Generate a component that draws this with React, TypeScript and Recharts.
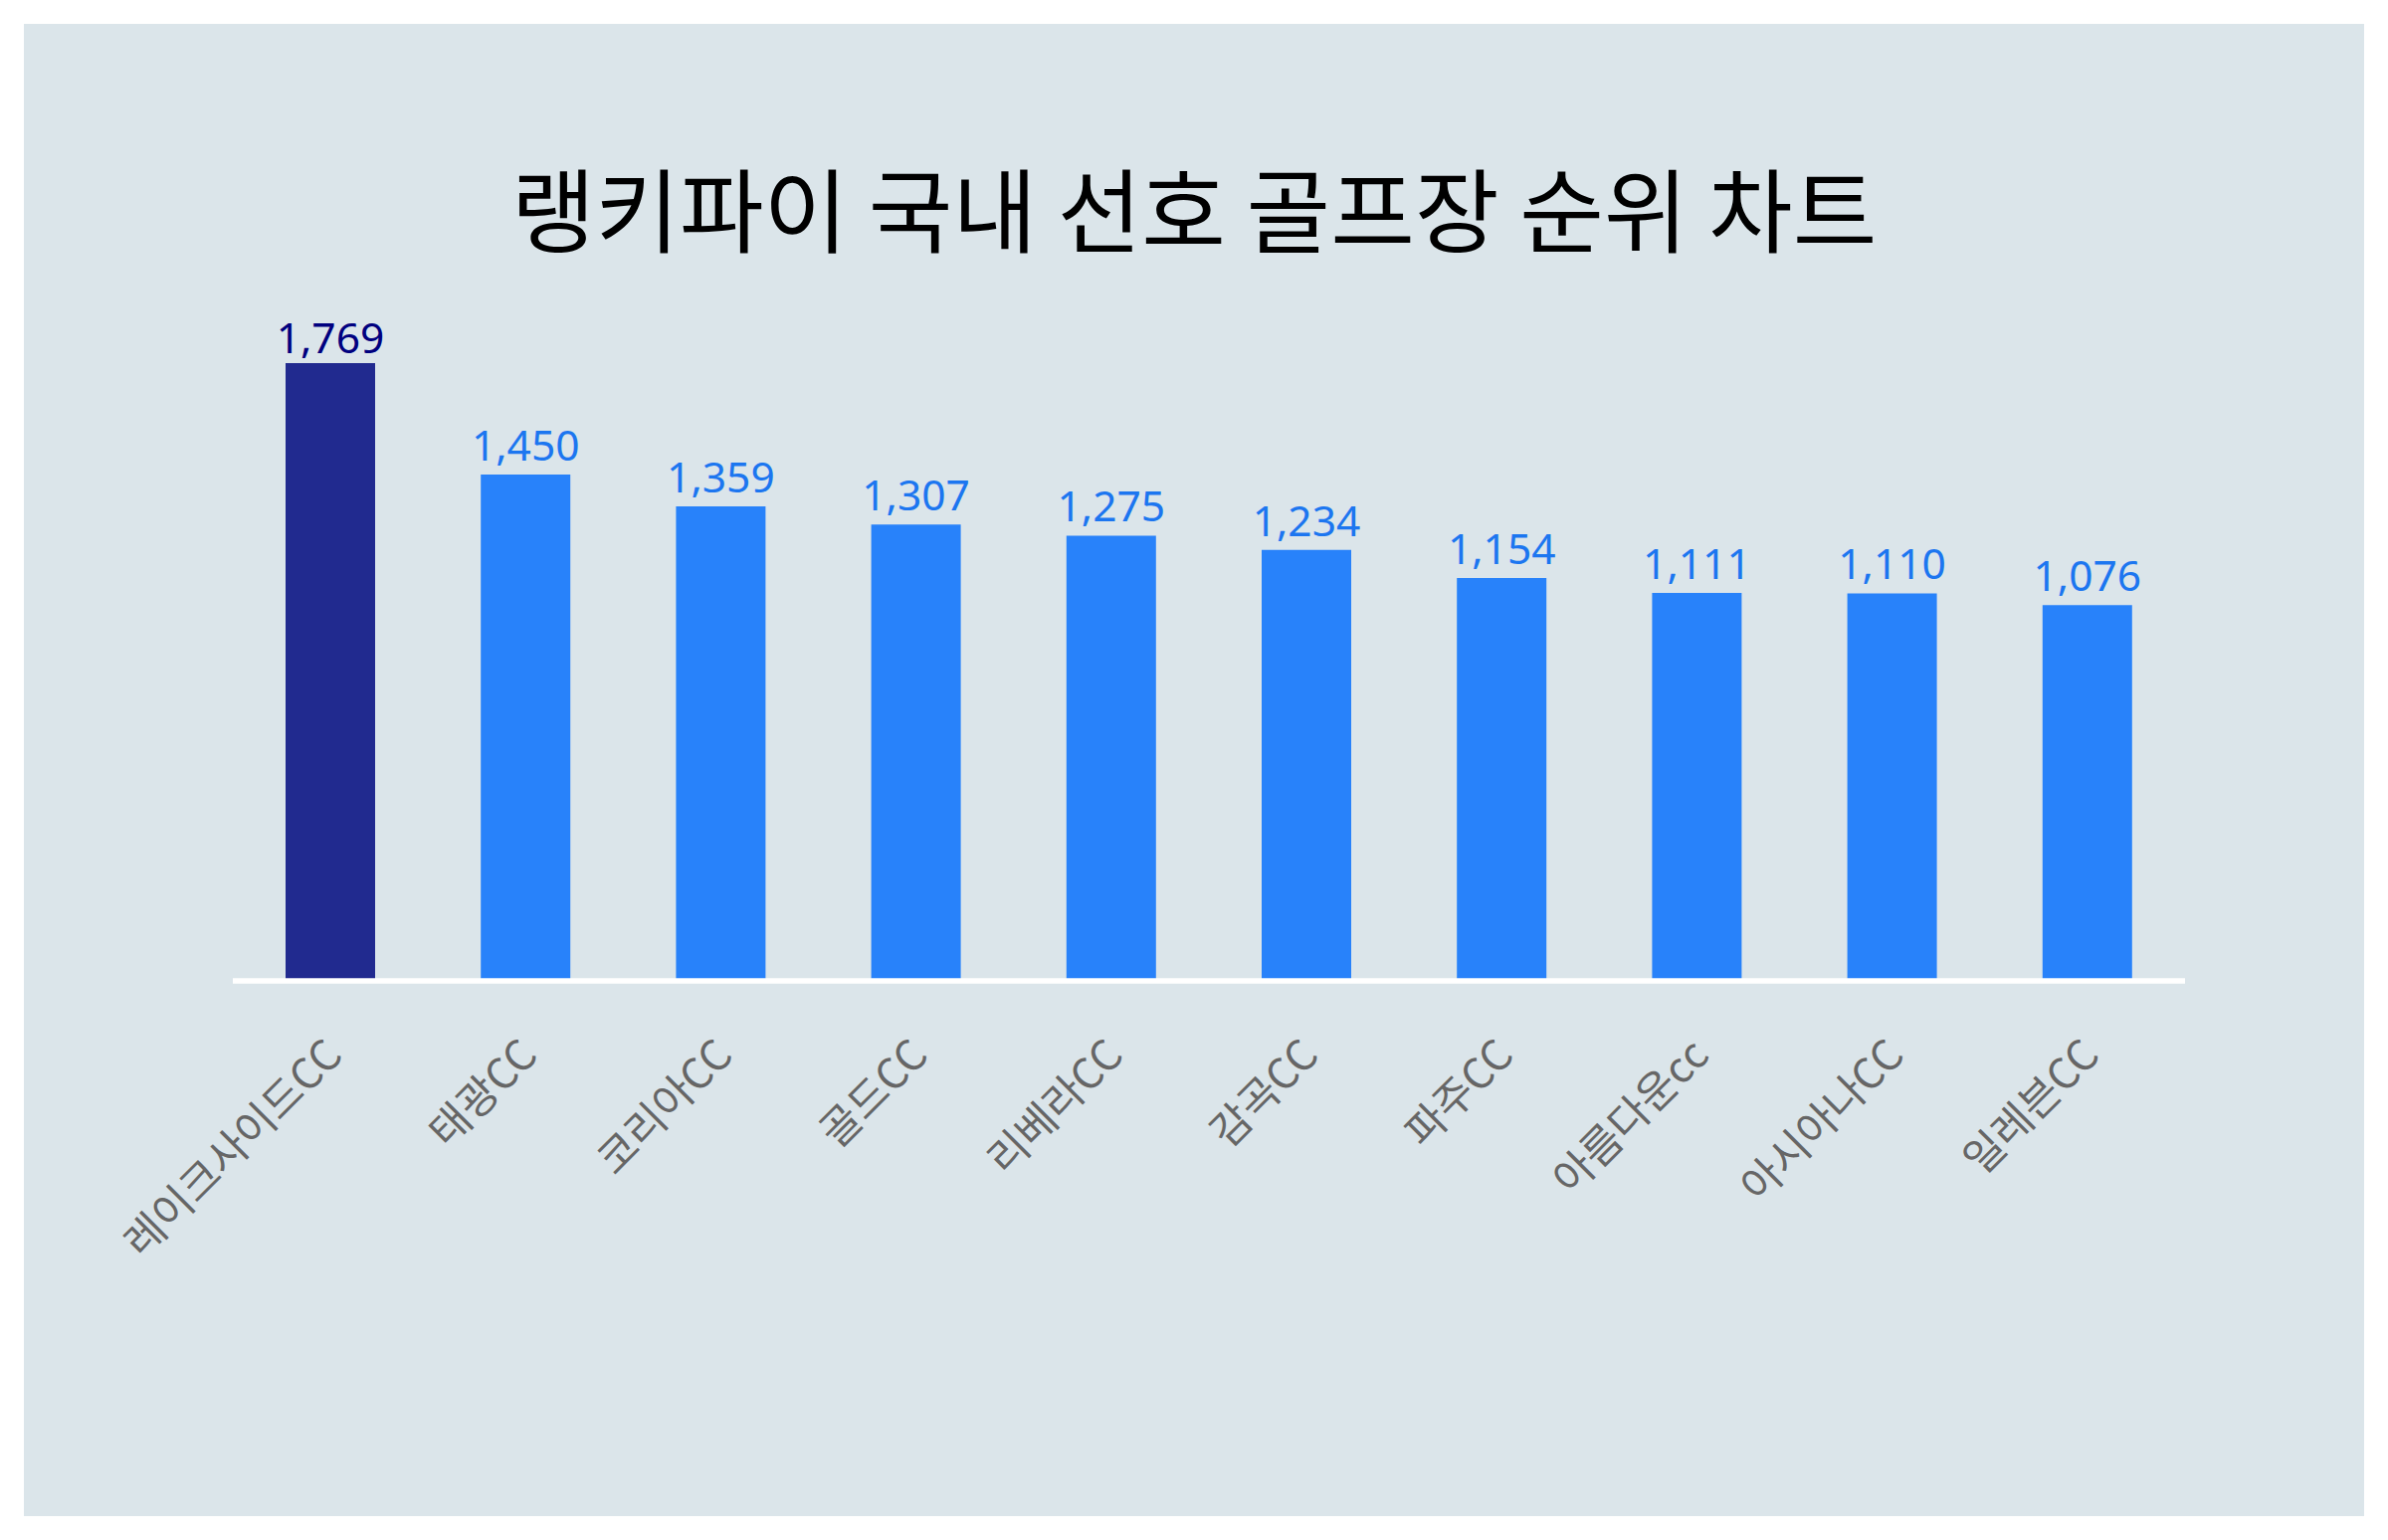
import React from "react";
import { BarChart, Bar, XAxis, YAxis, Cell, LabelList } from "recharts";

// golf courses, ranked
const courses = [
  "레이크사이드CC", "태광CC", "코리아CC", "골드CC", "리베라CC",
  "감곡CC", "파주CC", "아름다운cc", "아시아나CC", "일레븐CC",
];
const scores = [1769, 1450, 1359, 1307, 1275, 1234, 1154, 1111, 1110, 1076];
const yDomain = [0, 2000];

const TITLE = "랭키파이 국내 선호 골프장 순위 차트";

const data = courses.map((name, i) => ({ name, score: scores[i] }));
const topScore = Math.max(...scores);

const BAR_TOP = "#212a8f";
const BAR = "#2882fa";
const LABEL_TOP = "#00007f";
const LABEL = "#1c76f0";

const CourseTick = ({ x, y, payload }: { x?: number; y?: number; payload?: { value: string } }) => (
  <g transform={`translate(${(x ?? 0) + 14},${(y ?? 0) + 77}) rotate(-45)`}>
    <text
      textAnchor="end"
      fill="#666666"
      fontSize={42.5}
      fontFamily="'Noto Sans CJK KR', 'Noto Sans', sans-serif"
    >
      {payload?.value}
    </text>
  </g>
);

const ValueLabel = (props: any) => {
  const { x, y, width, value } = props;
  if (value == null) return null;
  const top = value === topScore;
  return (
    <text
      x={Number(x) + Number(width) / 2}
      y={Number(y) - (top ? 10 : 14)}
      textAnchor="middle"
      fontSize={42.5}
      fontFamily="'Noto Sans', sans-serif"
      fill={top ? LABEL_TOP : LABEL}
    >
      {Number(value).toLocaleString("en-US")}
    </text>
  );
};

export default function App() {
  return (
    <div style={{ position: "absolute", left: 0, top: 0, width: 2400, height: 1548, background: "#ffffff" }}>
      <div style={{ position: "absolute", left: 24, top: 24, width: 2352, height: 1500, background: "#dbe5ea" }} />
      <div
        style={{
          position: "absolute",
          left: 0,
          top: 157,
          width: 2400,
          textAlign: "center",
          fontSize: 92,
          lineHeight: "100px",
          color: "#000",
          fontFamily: "'Noto Sans CJK KR', sans-serif",
        }}
      >
        {TITLE}
      </div>
      <div style={{ position: "absolute", left: 0, top: 0 }}>
        <BarChart
          width={2400}
          height={1548}
          data={data}
          margin={{ top: 284, right: 204, bottom: 0, left: 234 }}
        >
          <XAxis
            dataKey="name"
            height={562}
            interval={0}
            tickLine={false}
            tickSize={0}
            tickMargin={0}
            axisLine={{ stroke: "#ffffff", strokeWidth: 5.5 }}
            tick={<CourseTick />}
          />
          <YAxis hide domain={yDomain} />
          <Bar dataKey="score" barSize={90} isAnimationActive={false}>
            {data.map((d) => (
              <Cell key={d.name} fill={d.score === topScore ? BAR_TOP : BAR} />
            ))}
            <LabelList dataKey="score" content={<ValueLabel />} />
          </Bar>
        </BarChart>
      </div>
    </div>
  );
}
